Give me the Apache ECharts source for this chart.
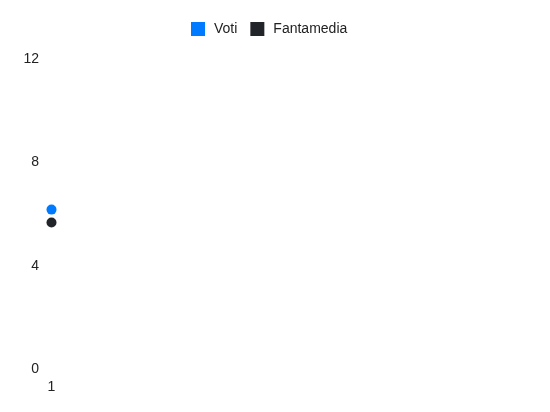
<!DOCTYPE html>
<html>
<head>
<meta charset="utf-8">
<script src="https://cdn.jsdelivr.net/npm/echarts@6/dist/echarts.min.js"></script>
<style>
html, body { margin: 0; padding: 0; background: #fff; }
#chart { width: 550px; height: 412px; }
</style>
</head>
<body>
<div id="chart"></div>
<script>
// dati
var giornate = ["1"];
var voti = [6.17];
var fantamedia = [5.67];
var yTicks = [0, 4, 8, 12];

var myChart = echarts.init(document.getElementById("chart"));

var font = "Liberation Sans, Arial, sans-serif";

var option = {
	animation: false,
	legend: {
		top: 17,
		left: 186,
		icon: "rect",
		itemWidth: 14,
		itemHeight: 14,
		itemGap: 13,
		textStyle: { color: "#222", fontSize: 14, fontFamily: font, padding: [0, 0, 0, 4] },
		data: ["Voti", "Fantamedia"]
	},
	grid: { left: 51, width: 1, top: 59, bottom: 43 },
	xAxis: {
		type: "category",
		boundaryGap: false,
		data: giornate,
		axisLine: { show: false },
		axisTick: { show: false },
		splitLine: { show: false },
		axisLabel: { color: "#222", fontSize: 14, margin: 11, fontFamily: font }
	},
	yAxis: {
		type: "value",
		min: yTicks[0],
		max: yTicks[yTicks.length - 1],
		interval: 4,
		axisLine: { show: false },
		axisTick: { show: false },
		splitLine: { show: false },
		axisLabel: { color: "#222", fontSize: 14, margin: 12, fontFamily: font }
	},
	series: [{
		name: "Voti",
		type: "line",
		data: voti,
		symbol: "circle",
		symbolSize: 10,
		showSymbol: true,
		itemStyle: { color: "#007bff" },
		lineStyle: { color: "#007bff" }
	}, {
		name: "Fantamedia",
		type: "line",
		data: fantamedia,
		symbol: "circle",
		symbolSize: 10,
		showSymbol: true,
		itemStyle: { color: "#212529" },
		lineStyle: { color: "#212529" }
	}]
};
myChart.setOption(option);
</script>
</body>
</html>
